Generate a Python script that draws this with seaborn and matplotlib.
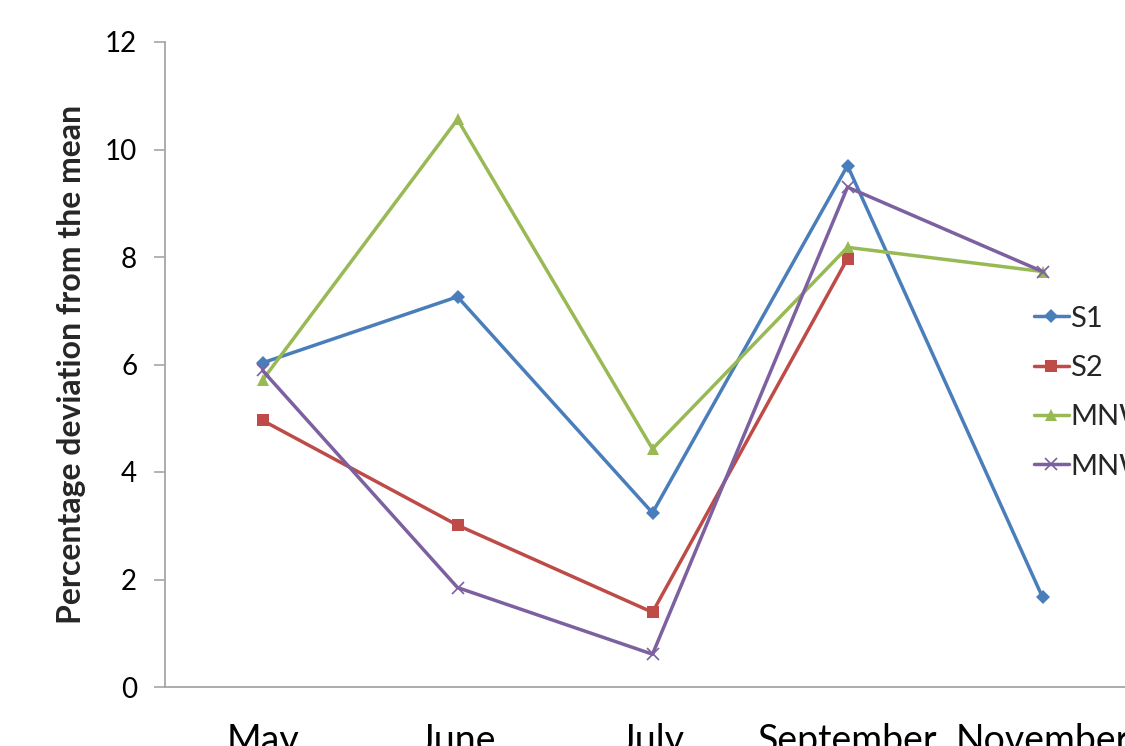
import numpy as np
import pandas as pd
import matplotlib
matplotlib.use("Agg")
import matplotlib.pyplot as plt
import seaborn as sns
from matplotlib.lines import Line2D

months = ["May", "June", "July", "September", "November"]
s1 = [6.03, 7.26, 3.24, 9.70, 1.67]
s2 = [4.96, 3.01, 1.39, 7.97, np.nan]
mnw1 = [5.71, 10.56, 4.43, 8.18, 7.73]
mnw2 = [5.89, 1.85, 0.61, 9.30, 7.73]
series_names = ["S1", "S2", "MNW1", "MNW2"]
ylabel = "Percentage deviation from the mean"
yticks = [0, 2, 4, 6, 8, 10, 12]

sns.set_style("white")
plt.rcParams['font.family'] = ['Lato', 'DejaVu Sans']

colors = ["#4A7EBB", "#BE4B48", "#98B954", "#7D60A0"]
markers = ["D", "s", "^", "x"]
msizes = [7, 9, 9, 9]

fig = plt.figure(figsize=(11.25, 7.46), dpi=100)
ax = fig.add_axes([165/1125, 59/746, (1140-165)/1125, (687-42)/746])

for name, vals, c, m, ms in zip(series_names, [s1, s2, mnw1, mnw2], colors, markers, msizes):
    df = pd.DataFrame({"month": months, "value": vals}).dropna()
    df["pos"] = [months.index(mm) for mm in df["month"]]
    sns.lineplot(data=df, x="pos", y="value", ax=ax, color=c, marker=m,
                 markersize=ms, linewidth=2.5, markeredgecolor=c,
                 markeredgewidth=1.2 if m == "x" else 0, label=name, legend=False,
                 clip_on=False)

ax.set_xlim(-0.5, 4.5)
ax.set_ylim(0, 12)
ax.set_yticks(yticks)
ax.set_yticklabels([str(t) for t in yticks])
ax.set_xticks(range(len(months)))
ax.set_xticklabels(months)
ax.set_xticks(np.arange(-0.5, 5.0, 1.0), minor=True)
ax.tick_params(axis="x", which="major", length=0, labelsize=27, pad=26, colors="black")
ax.tick_params(axis="x", which="minor", length=12, width=1.2, color="#A6A6A6", direction="out")
ax.tick_params(axis="y", which="major", length=8, width=1.2, color="#A6A6A6",
               direction="out", labelsize=20, pad=12, labelcolor="black", left=True)
ax.set_xlabel("")
ax.set_ylabel(ylabel, fontsize=23, fontweight="bold", labelpad=14)

for sp in ["top", "right"]:
    ax.spines[sp].set_visible(False)
for sp in ["left", "bottom"]:
    ax.spines[sp].set_color("#A6A6A6")
    ax.spines[sp].set_linewidth(1.3)

handles = [Line2D([0], [0], color=c, marker=m, markersize=ms, linewidth=2.5,
                  markeredgecolor=c, markeredgewidth=1.2 if m == "x" else 0)
           for c, m, ms in zip(colors, markers, msizes)]
fig.legend(handles, series_names, loc="upper left", bbox_to_anchor=(1022/1125, 1 - 294/746),
           frameon=False, fontsize=21, handlelength=1.2, handletextpad=0.05,
           labelspacing=0.8, borderaxespad=0)

fig.savefig("out.png", dpi=100)
